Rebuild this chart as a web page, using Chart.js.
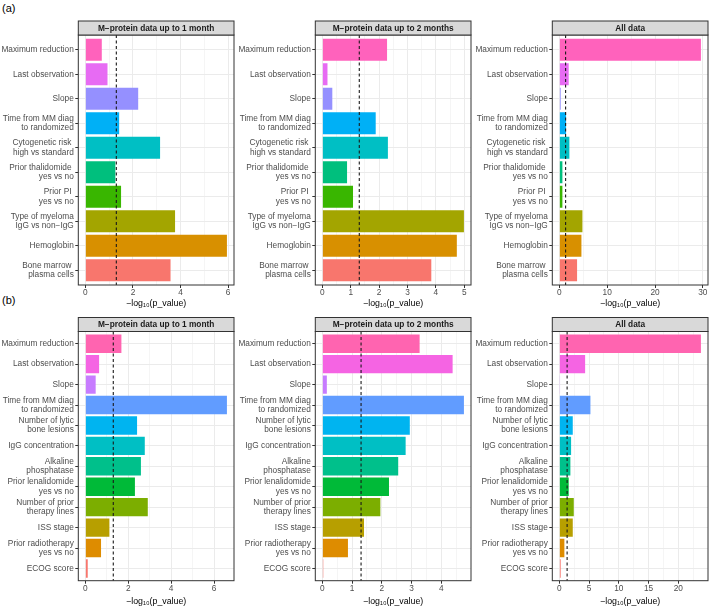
<!DOCTYPE html>
<html>
<head>
<meta charset="utf-8">
<script src="https://cdn.jsdelivr.net/npm/chart.js@4.4.0/dist/chart.umd.min.js"></script>
<style>
body { margin: 0; background: #fff; overflow: hidden; width: 709px; height: 606px; position: relative; font-family: 'Liberation Sans', Arial, sans-serif; }
canvas { position: absolute; }
.tag { position: absolute; left: 2px; font-size: 11px; line-height: 11px; color: #000; }
</style>
</head>
<body>
<div class="tag" style="top:3px">(a)</div>
<div class="tag" style="top:295px">(b)</div>
<canvas id="a1" width="235" height="292" style="left:0px;top:20px"></canvas>
<canvas id="a2" width="235" height="292" style="left:237px;top:20px"></canvas>
<canvas id="a3" width="235" height="292" style="left:474px;top:20px"></canvas>
<canvas id="b1" width="235" height="291" style="left:0px;top:315px"></canvas>
<canvas id="b2" width="235" height="291" style="left:237px;top:315px"></canvas>
<canvas id="b3" width="235" height="291" style="left:474px;top:315px"></canvas>
<script>
// facet titles
var facetNames = ['M\u2212protein data up to 1 month', 'M\u2212protein data up to 2 months', 'All data'];
var threshold = 1.301; // -log10(0.05)

// (a) categories, top to bottom
var catsA = ['Maximum reduction', 'Last observation', 'Slope',
    ['Time from MM diag', 'to randomized'], ['Cytogenetic risk ', 'high vs standard'],
    ['Prior thalidomide ', 'yes vs no'], ['Prior PI ', 'yes vs no'],
    ['Type of myeloma', 'IgG vs non\u2212IgG'], 'Hemoglobin', ['Bone marrow ', 'plasma cells']];
var colorsA = ['#FF62BC', '#E76BF3', '#9590FF', '#00B0F6', '#00BFC4', '#00BF7D', '#39B600', '#A3A500', '#D89000', '#F8766D'];
var valsA1 = [0.69, 0.93, 2.22, 1.42, 3.14, 1.26, 1.50, 3.77, 5.95, 3.58];
var valsA2 = [2.28, 0.18, 0.35, 1.88, 2.31, 0.87, 1.08, 4.99, 4.74, 3.84];
var valsA3 = [29.6, 1.95, 0.28, 1.40, 2.09, 0.63, 0.63, 4.82, 4.61, 3.70];
var ticksA1 = [0, 2, 4, 6];
var ticksA2 = [0, 1, 2, 3, 4, 5];
var ticksA3 = [0, 10, 20, 30];

// (b) categories, top to bottom
var catsB = ['Maximum reduction', 'Last observation', 'Slope',
    ['Time from MM diag', 'to randomized'], ['Number of lytic', 'bone lesions'], 'IgG concentration',
    ['Alkaline', 'phosphatase'], ['Prior lenalidomide', 'yes vs no'], ['Number of prior', 'therapy lines'],
    'ISS stage', ['Prior radiotherapy', 'yes vs no'], 'ECOG score'];
var colorsB = ['#FF64B0', '#F564E3', '#C77CFF', '#619CFF', '#00B4F0', '#00BFC4', '#00C08B', '#00BA38', '#7CAE00', '#B79F00', '#DE8C00', '#F8766D'];
var valsB1 = [1.68, 0.64, 0.48, 6.60, 2.41, 2.77, 2.59, 2.31, 2.91, 1.12, 0.73, 0.11];
var valsB2 = [3.27, 4.38, 0.15, 4.76, 2.94, 2.80, 2.55, 2.24, 1.95, 1.40, 0.86, 0.03];
var valsB3 = [23.8, 4.33, 0.11, 5.22, 2.25, 1.97, 1.85, 1.57, 2.42, 2.25, 0.84, 0.22];
var ticksB1 = [0, 2, 4, 6];
var ticksB2 = [0, 1, 2, 3, 4];
var ticksB3 = [0, 5, 10, 15, 20];

var fontFam = "'Liberation Sans', Arial, sans-serif";
var rowA = { padTop: 15, padBottom: 4, axisH: 23 };
var rowB = { padTop: 16.5, padBottom: 0, axisH: 25.3 };

// strip, border and dashed line
var facetPlugin = {
    id: 'facet',
    afterDatasetsDraw: function (chart, args, opts) {
        var a = chart.chartArea, ctx = chart.ctx;
        var x = chart.scales.x.getPixelForValue(opts.threshold);
        ctx.save();
        ctx.strokeStyle = '#1a1a1a';
        ctx.lineWidth = 1.1;
        ctx.setLineDash([3, 2.5]);
        ctx.beginPath();
        ctx.moveTo(x, a.top);
        ctx.lineTo(x, a.bottom);
        ctx.stroke();
        ctx.restore();
    },
    afterDraw: function (chart, args, opts) {
        var a = chart.chartArea, ctx = chart.ctx;
        var w = a.right - a.left;
        ctx.save();
        ctx.strokeStyle = '#333333';
        ctx.lineWidth = 1;
        ctx.strokeRect(a.left, a.top, w, a.bottom - a.top);
        ctx.fillStyle = '#D9D9D9';
        ctx.fillRect(a.left, a.top - 14, w, 14);
        ctx.strokeRect(a.left, a.top - 14, w, 14);
        ctx.fillStyle = '#1A1A1A';
        ctx.font = 'bold 8.3px ' + fontFam;
        ctx.textAlign = 'center';
        ctx.textBaseline = 'middle';
        ctx.fillText(opts.title, a.left + w / 2, a.top - 6.5);
        ctx.restore();
    }
};

function drawPanel(id, title, cats, colors, vals, major, row) {
    var top = Math.max.apply(null, vals);
    var lo = -0.05 * top, hi = 1.05 * top;
    var step = major[1] - major[0];
    var minor = [];
    for (var i = 0; i < major.length; i++) {
        if (major[i] + step / 2 < hi) minor.push(major[i] + step / 2);
    }
    var all = major.concat(minor).sort(function (p, q) { return p - q; });
    var isMajor = function (v) { return major.indexOf(v) >= 0; };

    new Chart(document.getElementById(id), {
        type: 'bar',
        data: {
            datasets: [{
                data: vals.map(function (v, i) { return { x: v, y: i + 1 }; }),
                backgroundColor: colors,
                borderWidth: 0,
                barPercentage: 0.9,
                categoryPercentage: 1
            }]
        },
        plugins: [facetPlugin],
        options: {
            indexAxis: 'y',
            responsive: false,
            animation: false,
            devicePixelRatio: 1,
            layout: { padding: { top: row.padTop, bottom: row.padBottom, left: 0, right: 1 } },
            plugins: {
                legend: { display: false },
                tooltip: { enabled: false },
                facet: { title: title, threshold: threshold }
            },
            scales: {
                x: {
                    type: 'linear', min: lo, max: hi, offset: false,
                    afterBuildTicks: function (s) { s.ticks = all.map(function (v) { return { value: v }; }); },
                    afterFit: function (s) { s.height = row.axisH; },
                    ticks: {
                        autoSkip: false, maxRotation: 0, padding: 0, color: '#4D4D4D',
                        font: { family: fontFam, size: 8.3 },
                        callback: function (v) { return isMajor(v) ? String(v) : ''; }
                    },
                    grid: {
                        offset: false,
                        color: '#EBEBEB',
                        lineWidth: function (c) { return c.tick && isMajor(c.tick.value) ? 1 : 0.5; },
                        tickLength: 3,
                        tickColor: function (c) { return c.tick && isMajor(c.tick.value) ? '#333333' : 'rgba(0,0,0,0)'; }
                    },
                    border: { display: false },
                    title: {
                        display: true, text: '\u2212log\u2081\u2080(p_value)', color: '#000',
                        font: { family: fontFam, size: 8.8, lineHeight: 1 }, padding: 0
                    }
                },
                y: {
                    type: 'linear', min: 0.4, max: cats.length + 0.6, reverse: true, offset: false,
                    afterBuildTicks: function (s) { s.ticks = cats.map(function (c, i) { return { value: i + 1 }; }); },
                    afterFit: function (s) { s.width = 78.3; },
                    ticks: {
                        autoSkip: false, padding: 1.5, color: '#4D4D4D',
                        font: { family: fontFam, size: 8.3, lineHeight: 1.1 },
                        callback: function (v) { return cats[v - 1]; }
                    },
                    grid: { offset: false, color: '#EBEBEB', lineWidth: 1, tickLength: 3, tickColor: '#333333' },
                    border: { display: false }
                }
            }
        }
    });
}

drawPanel('a1', facetNames[0], catsA, colorsA, valsA1, ticksA1, rowA);
drawPanel('a2', facetNames[1], catsA, colorsA, valsA2, ticksA2, rowA);
drawPanel('a3', facetNames[2], catsA, colorsA, valsA3, ticksA3, rowA);
drawPanel('b1', facetNames[0], catsB, colorsB, valsB1, ticksB1, rowB);
drawPanel('b2', facetNames[1], catsB, colorsB, valsB2, ticksB2, rowB);
drawPanel('b3', facetNames[2], catsB, colorsB, valsB3, ticksB3, rowB);
</script>
</body>
</html>
